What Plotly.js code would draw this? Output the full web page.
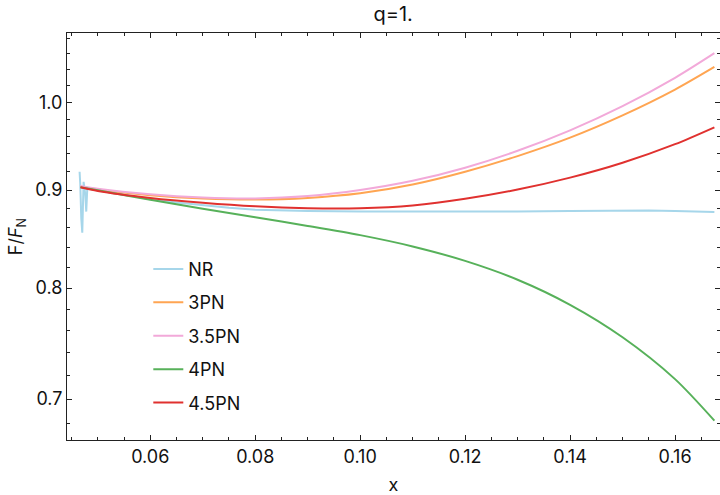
<!DOCTYPE html>
<html>
<head>
<meta charset="utf-8">
<script src="https://cdn.plot.ly/plotly-3.0.1.min.js"></script>
<style>html,body{margin:0;padding:0;background:#fff;}#chart{width:720px;height:495px;}</style>
</head>
<body>
<div id="chart"></div>
<script>
// ---- data ----
const nrX = [0.04653, 0.04666, 0.04685, 0.04704, 0.04729, 0.04742, 0.04762, 0.0478, 0.048, 0.05, 0.055, 0.06, 0.065, 0.07, 0.075, 0.08, 0.085, 0.09, 0.10, 0.11, 0.12, 0.13, 0.14, 0.15, 0.155, 0.16, 0.1675];
const nrY = [0.920, 0.906, 0.870, 0.855, 0.909, 0.905, 0.895, 0.877, 0.9025, 0.900, 0.895, 0.890, 0.8865, 0.8835, 0.881, 0.879, 0.878, 0.8775, 0.877, 0.8768, 0.8765, 0.877, 0.8775, 0.878, 0.878, 0.8775, 0.8765];

const pnX = [0.0467, 0.05, 0.06, 0.07, 0.08, 0.09, 0.10, 0.11, 0.12, 0.13, 0.14, 0.15, 0.16, 0.1675];
const pn3 = [0.9035, 0.9005, 0.8945, 0.891, 0.8898, 0.8915, 0.8965, 0.9060, 0.9200, 0.9375, 0.9585, 0.9845, 1.0155, 1.0435];
const pn35 = [0.9045, 0.9015, 0.8955, 0.892, 0.891, 0.8935, 0.900, 0.910, 0.9245, 0.9435, 0.967, 0.9955, 1.030, 1.061];
const pn4 = [0.903, 0.8998, 0.8895, 0.880, 0.871, 0.862, 0.8525, 0.841, 0.8265, 0.808, 0.784, 0.754, 0.717, 0.6821];
const pn45 = [0.903, 0.899, 0.8915, 0.8863, 0.8825, 0.8805, 0.8805, 0.8835, 0.8905, 0.9005, 0.9135, 0.930, 0.951, 0.9705];

const seriesNames = ['NR', '3PN', '3.5PN', '4PN', '4.5PN'];
const seriesColors = ['#a6d6ea', '#ffa552', '#f2a9d9', '#57b15a', '#e0312f'];

const yMajor = [0.7, 0.8, 0.9, 1.0];
const yMajorText = ['0.7', '0.8', '0.9', '1.0'];
const yMinor = [0.68, 0.70, 0.72, 0.74, 0.76, 0.78, 0.80, 0.82, 0.84, 0.86, 0.88, 0.90, 0.92, 0.94, 0.96, 0.98, 1.00, 1.02, 1.04, 1.06, 1.08];

const xs = [nrX, pnX, pnX, pnX, pnX];
const ys = [nrY, pn3, pn35, pn4, pn45];

const FONT = 'Inter, "Liberation Sans", Arial, sans-serif';

const traces = seriesNames.map((n, i) => ({
  type: 'scatter', mode: 'lines', name: n,
  x: xs[i], y: ys[i],
  line: {color: seriesColors[i], width: 2, shape: 'spline', smoothing: 0.8},
  legendgroup: 'g' + i
}));
traces[0].line.shape = 'linear';

const axisCommon = {
  showline: true, linecolor: '#222', linewidth: 1, mirror: 'ticks',
  ticks: 'inside', ticklen: 5, tickwidth: 1, tickcolor: '#222',
  showgrid: false, zeroline: false,
  tickfont: {family: FONT, size: 18, color: '#111'}
};

const layout = {
  width: 720, height: 495,
  margin: {l: 67, r: 0, t: 33, b: 55},
  paper_bgcolor: '#fff', plot_bgcolor: '#fff',
  font: {family: FONT, color: '#111'},
  title: {text: 'q=1.', font: {family: FONT, size: 20, color: '#111'}, x: 0.546, xanchor: 'center', y: 0.972, yanchor: 'middle'},
  xaxis: Object.assign({}, axisCommon, {
    range: [0.04413, 0.16857], dtick: 0.02, tick0: 0, tickformat: '.2f',
    minor: {dtick: 0.005, tick0: 0, ticks: 'inside', ticklen: 3, tickcolor: '#222', showgrid: false},
    title: {text: 'x', font: {family: FONT, size: 18, color: '#111'}, standoff: 12}
  }),
  yaxis: Object.assign({}, axisCommon, {
    type: 'log',
    range: [Math.log10(0.6664), Math.log10(1.087)],
    tickmode: 'array', tickvals: yMajor, ticktext: yMajorText,
    minor: {tickmode: 'array', tickvals: yMinor, ticks: 'inside', ticklen: 3, tickcolor: '#222', showgrid: false},
    title: {text: 'F/<i>F</i><sub>N</sub>', font: {family: FONT, size: 18, color: '#111'}, standoff: 7}
  }),
  showlegend: true,
  legend: {
    x: 0.1245, y: 0.465, xanchor: 'left', yanchor: 'top',
    bgcolor: 'rgba(0,0,0,0)', borderwidth: 0,
    font: {family: FONT, size: 18, color: '#111'},
    traceorder: 'grouped', tracegroupgap: 7
  }
};

Plotly.newPlot('chart', traces, layout, {displayModeBar: false, staticPlot: true});
</script>
</body>
</html>
